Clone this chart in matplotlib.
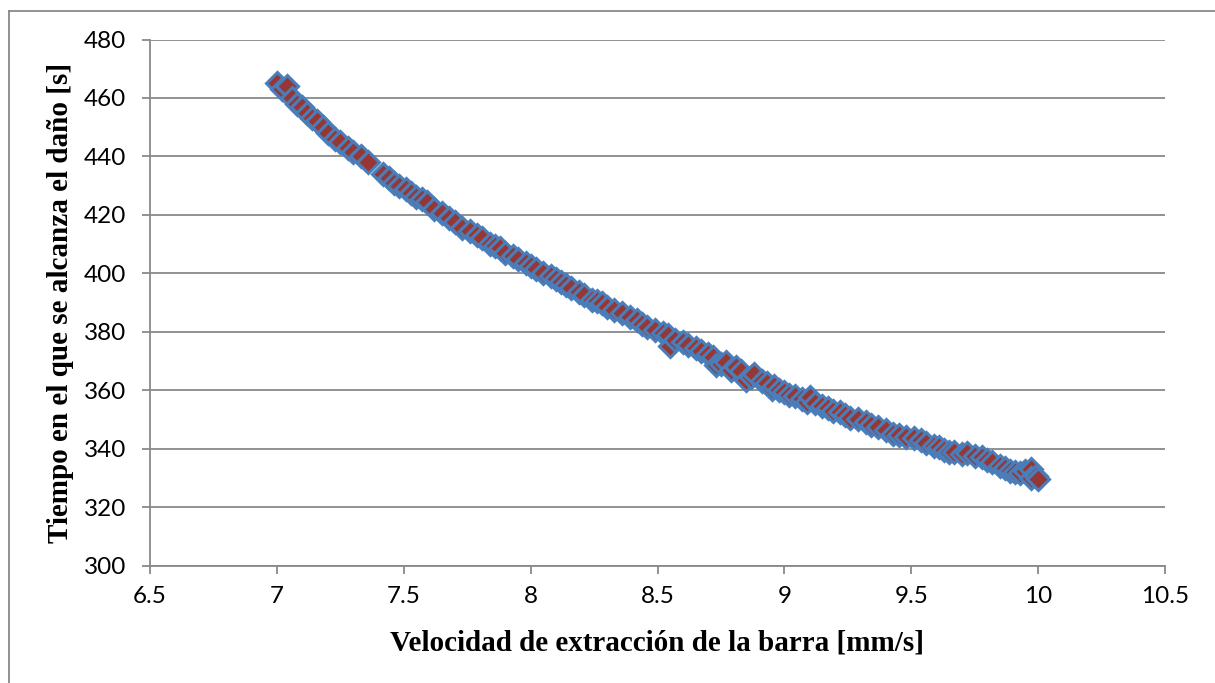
import matplotlib.pyplot as plt
from matplotlib.lines import Line2D

# velocidad [mm/s] y tiempo [s]
velocidad = [7.00, 7.02, 7.04, 7.06, 7.08, 7.10, 7.12, 7.14, 7.16, 7.18,
             7.20, 7.23, 7.25, 7.28, 7.30, 7.33, 7.36, 7.42, 7.44, 7.46,
             7.48, 7.51, 7.53, 7.55, 7.57, 7.59, 7.62, 7.65, 7.68, 7.70,
             7.73, 7.76, 7.79, 7.81, 7.84, 7.86, 7.88, 7.90, 7.93, 7.95,
             7.98, 8.00, 8.02, 8.05, 8.08, 8.10, 8.12, 8.14, 8.16, 8.19,
             8.21, 8.24, 8.26, 8.28, 8.30, 8.33, 8.36, 8.39, 8.42, 8.44,
             8.46, 8.49, 8.52, 8.54, 8.55, 8.57, 8.60, 8.62, 8.65, 8.67,
             8.70, 8.72, 8.73, 8.75, 8.77, 8.79, 8.81, 8.83, 8.85, 8.87,
             8.88, 8.91, 8.93, 8.95, 8.96, 8.98, 9.00, 9.02, 9.04, 9.07,
             9.09, 9.10, 9.12, 9.15, 9.17, 9.19, 9.22, 9.24, 9.26, 9.29,
             9.32, 9.34, 9.37, 9.40, 9.43, 9.45, 9.48, 9.51, 9.54, 9.56,
             9.59, 9.61, 9.63, 9.65, 9.67, 9.70, 9.72, 9.75, 9.78, 9.80,
             9.82, 9.85, 9.87, 9.89, 9.91, 9.93, 9.95, 9.97, 9.97, 9.99,
             10.00]
tiempo = [465, 463, 464, 460, 458, 457, 455, 453, 452, 450,
          448, 446, 445, 443, 441.5, 440, 438, 434, 432.5, 431,
          430, 429, 427.5, 426, 425.5, 424.5, 422, 420.5, 419, 417.5,
          415.5, 414.5, 413, 412, 410, 409.5, 408.5, 407, 406, 405,
          403.5, 402.5, 401.5, 400, 399, 398, 397, 396, 395, 393.5,
          392.5, 391, 390.5, 390, 388.5, 387.5, 386.5, 385, 384, 382.5,
          381.5, 380.5, 379.5, 379, 375, 377, 376.5, 375.5, 374.5, 373.5,
          372.5, 371.5, 368.5, 369, 369.5, 367, 368, 366.5, 363.5, 364.5,
          365.5, 363, 362.5, 360.5, 361.5, 360, 359.5, 358.5, 358, 357,
          356, 357.5, 355.5, 354.5, 354, 353, 352.5, 351.5, 350.5, 350,
          349, 348, 347.5, 346.5, 345, 344.5, 344, 343.5, 343, 342,
          341, 340.5, 339.5, 339, 339, 338, 338.5, 337.5, 337, 336,
          335.5, 334, 333.5, 332.5, 332, 331.5, 332.5, 333, 330, 330.5,
          329.5]

xticks = [6.5, 7, 7.5, 8, 8.5, 9, 9.5, 10, 10.5]
xlabels = ["6.5", "7", "7.5", "8", "8.5", "9", "9.5", "10", "10.5"]
yticks = [300, 320, 340, 360, 380, 400, 420, 440, 460, 480]

gris = "#898989"

fig = plt.figure(figsize=(12.15, 6.83), dpi=100)
ax = fig.add_axes([150 / 1215, 1 - 565.5 / 683, 1015 / 1215, 526 / 683])

ax.plot(velocidad, tiempo, linestyle="none", marker="D", markersize=11,
        markerfacecolor="#953835", markeredgecolor="#4A7EBB",
        markeredgewidth=2.2, zorder=3)

ax.set_xlim(6.5, 10.5)
ax.set_ylim(300, 480)
ax.set_xticks(xticks)
ax.set_xticklabels(xlabels)
ax.set_yticks(yticks)
ax.grid(axis="y", color=gris, linewidth=1.3)
ax.set_axisbelow(True)

for s in ["top", "right"]:
    ax.spines[s].set_visible(False)
for s in ["left", "bottom"]:
    ax.spines[s].set_color(gris)
    ax.spines[s].set_linewidth(1.3)

ax.tick_params(axis="both", direction="out", length=6, width=1.3, color=gris,
               labelsize=17.5, labelcolor="black")
ax.tick_params(axis="x", pad=9)
ax.tick_params(axis="y", pad=11)
for lab in ax.get_xticklabels() + ax.get_yticklabels():
    lab.set_family("Lato")

fig.text(657.5 / 1215, 1 - 650 / 683, "Velocidad de extracción de la barra [mm/s]",
         ha="center", va="baseline", fontsize=21, fontweight="bold",
         family="Liberation Serif")
fig.text(61 / 1215, 1 - 302.5 / 683, "Tiempo en el que se alcanza el daño [s]",
         ha="center", va="center", rotation=90, fontsize=21, fontweight="bold",
         family="Liberation Serif")

# marco del grafico
fig.add_artist(Line2D([8.5 / 1215, 8.5 / 1215], [0, 1 - 10.5 / 683],
                      transform=fig.transFigure, color=gris, linewidth=1.3))
fig.add_artist(Line2D([8.5 / 1215, 1], [1 - 10.5 / 683, 1 - 10.5 / 683],
                      transform=fig.transFigure, color=gris, linewidth=1.3))

fig.savefig("out.png", dpi=100)
